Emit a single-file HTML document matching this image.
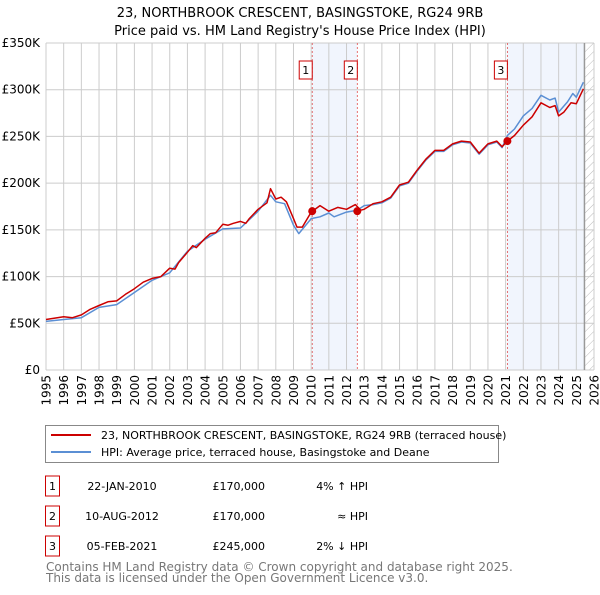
<!DOCTYPE html>
<html><head><meta charset="utf-8"><style>
body{margin:0;background:#fff;width:600px;height:590px;overflow:hidden;font-family:"Liberation Sans","DejaVu Sans",sans-serif}
svg text{font-family:"DejaVu Sans","Liberation Sans",sans-serif}
</style></head><body>
<svg id="chart" width="600" height="590" xmlns="http://www.w3.org/2000/svg">
<text x="300" y="17" text-anchor="middle" font-size="13">23, NORTHBROOK CRESCENT, BASINGSTOKE, RG24 9RB</text>
<text x="300" y="35" text-anchor="middle" font-size="13">Price paid vs. HM Land Registry's House Price Index (HPI)</text>
<g id="plot"></g>
<g>
<rect x="45.5" y="425.5" width="453" height="37" fill="#fff" stroke="#888" stroke-width="1"/>
<line x1="51" y1="435" x2="91" y2="435" stroke="#cc0000" stroke-width="2"/>
<text x="101" y="439" font-size="11">23, NORTHBROOK CRESCENT, BASINGSTOKE, RG24 9RB (terraced house)</text>
<line x1="51" y1="452" x2="91" y2="452" stroke="#5b8fd4" stroke-width="2"/>
<text x="101" y="456" font-size="11">HPI: Average price, terraced house, Basingstoke and Deane</text>
</g>
<g id="table" font-size="11"></g>
<text x="46" y="571" font-size="12" fill="#777">Contains HM Land Registry data © Crown copyright and database right 2025.</text>
<text x="46" y="582" font-size="12" fill="#777">This data is licensed under the Open Government Licence v3.0.</text>
</svg>
<script>
const redYears=[1995,1996,1996.5,1997,1997.5,1998,1998.5,1999,1999.5,2000,2000.5,2001,2001.5,2002,2002.3,2002.5,2003,2003.3,2003.5,2004,2004.3,2004.6,2005,2005.3,2005.6,2006,2006.3,2006.5,2007,2007.5,2007.7,2008,2008.3,2008.6,2009,2009.2,2009.5,2010,2010.5,2011,2011.5,2012,2012.5,2012.8,2013,2013.5,2014,2014.5,2015,2015.5,2016,2016.5,2017,2017.5,2018,2018.5,2019,2019.5,2020,2020.5,2020.8,2021.1,2021.5,2022,2022.5,2023,2023.5,2023.8,2024,2024.3,2024.7,2025,2025.4];
const redValues=[54,57,56,59,65,69,73,74,81,87,94,98,100,109,108,115,126,133,131,141,146,147,156,155,157,159,157,162,172,179,194,183,185,180,162,153,153,169,176,170,174,172,177,171,172,178,180,185,198,201,214,226,235,235,242,245,244,232,242,245,239,245,251,262,271,286,281,283,272,276,286,285,301];
const hpiYears=[1995,1996,1997,1998,1999,2000,2001,2002,2003,2004,2005,2006,2007,2007.7,2008,2008.5,2009,2009.3,2010,2010.5,2011,2011.3,2012,2012.6,2013,2013.5,2014,2014.5,2015,2015.5,2016,2016.5,2017,2017.5,2018,2018.5,2019,2019.5,2020,2020.5,2020.8,2021.1,2021.5,2022,2022.5,2023,2023.5,2023.8,2024,2024.5,2024.8,2025,2025.4];
const hpiValues=[52,54,56,67,70,83,96,104,127,140,151,152,170,187,180,178,155,146,162,164,168,164,169,171,176,177,179,184,197,200,213,225,234,234,241,244,243,231,241,244,238,251,258,272,280,294,289,291,276,287,296,292,308];
const saleYears=[2010.06,2012.61,2021.1];
const saleValues=[170,170,245];
const saleLabels=["1","2","3"];
const saleDates=["22-JAN-2010","10-AUG-2012","05-FEB-2021"];
const salePrices=["£170,000","£170,000","£245,000"];
const saleHpi=["4% ↑ HPI","≈ HPI","2% ↓ HPI"];
const yTicks=[0,50,100,150,200,250,300,350];
const yTickLabels=["£0","£50K","£100K","£150K","£200K","£250K","£300K","£350K"];
const xTicks=[];for(let y=1995;y<=2026;y++)xTicks.push(y);
const todayYear=2025.46;

const L=46,R=594,T=43,B=370;
const x=v=>L+(v-1995)/31*(R-L);
const y=v=>B-v/350*(B-T);
const NS="http://www.w3.org/2000/svg";
const g=document.getElementById('plot');
function mk(tag,attrs,parent){const e=document.createElementNS(NS,tag);for(const k in attrs)e.setAttribute(k,attrs[k]);(parent||g).appendChild(e);return e;}
let b1=mk('rect',{x:x(saleYears[0]),y:T,width:x(saleYears[1])-x(saleYears[0]),height:B-T,fill:'#eef3fc',opacity:0.8});


let b2=mk('rect',{x:x(saleYears[2]),y:T,width:x(todayYear)-x(saleYears[2]),height:B-T,fill:'#eef3fc',opacity:0.8});


const defs=mk('defs',{});
const pat=mk('pattern',{id:'hatch',width:6,height:6,patternUnits:'userSpaceOnUse',patternTransform:'rotate(45)'},defs);
mk('line',{x1:0,y1:0,x2:0,y2:6,stroke:'#bbb','stroke-width':1},pat);
let hr=mk('rect',{x:x(todayYear),y:T,width:R-x(todayYear),height:B-T,fill:'url(#hatch)'});


xTicks.forEach((t,i)=>{
 const l=mk('line',{x1:x(t),y1:T,x2:x(t),y2:B,stroke:'#ccc','stroke-width':1});
 
 
 const tx=mk('text',{x:0,y:0,'text-anchor':'end','font-size':12,transform:`translate(${x(t)+4.5},${B+5}) rotate(-90)`});
 tx.textContent=String(t);
 
 
});
yTicks.forEach((t,i)=>{
 const l=mk('line',{x1:L,y1:y(t),x2:R,y2:y(t),stroke:'#ccc','stroke-width':1});
 
 
 const tx=mk('text',{x:L-6,y:y(t)+4,'text-anchor':'end','font-size':12});
 tx.textContent=yTickLabels[i];
 
 
});
let tl=mk('line',{x1:x(todayYear),y1:T,x2:x(todayYear),y2:B,stroke:'#999','stroke-width':1.5});


saleYears.forEach((s,i)=>{
 const l=mk('line',{x1:x(s),y1:T,x2:x(s),y2:B,stroke:'#e05050','stroke-width':0.8,'stroke-dasharray':'2,2'});
 
 
 const r=mk('rect',{x:x(s)-13,y:T+18,width:13,height:18,fill:'#fff',stroke:'#cc0000','stroke-width':1});
 
 
 const t=mk('text',{x:x(s)-6.5,y:T+31,'text-anchor':'middle','font-size':11});
 t.textContent=saleLabels[i];
 
 
});
const pts=(xs,vs)=>xs.map((v,i)=>x(v).toFixed(1)+','+y(vs[i]).toFixed(1)).join(' ');
let hp=mk('polyline',{points:pts(hpiYears,hpiValues),fill:'none',stroke:'#5b8fd4','stroke-width':1.5,'stroke-linejoin':'round'});


let rp=mk('polyline',{points:pts(redYears,redValues),fill:'none',stroke:'#cc0000','stroke-width':1.5,'stroke-linejoin':'round'});


saleYears.forEach((s,i)=>{
 const c=mk('circle',{cx:x(s),cy:y(saleValues[i]),r:4,fill:'#cc0000'});
 
 
});
const tb=document.getElementById('table');
saleLabels.forEach((lab,i)=>{
 const cy=486+i*30;
 const r=mk('rect',{x:45.5,y:cy-10,width:14,height:20,fill:'#fff',stroke:'#cc0000','stroke-width':1},tb);
 
 
 const cells=[[52.5,lab,'middle'],[122,saleDates[i],'middle'],[265,salePrices[i],'end'],[368,saleHpi[i],'end']];
 cells.forEach(c=>{
  const t=mk('text',{x:c[0],y:cy+4,'text-anchor':c[2],'font-size':11},tb);
  t.textContent=c[1];
  
  
 });
});
</script>
</body></html>
